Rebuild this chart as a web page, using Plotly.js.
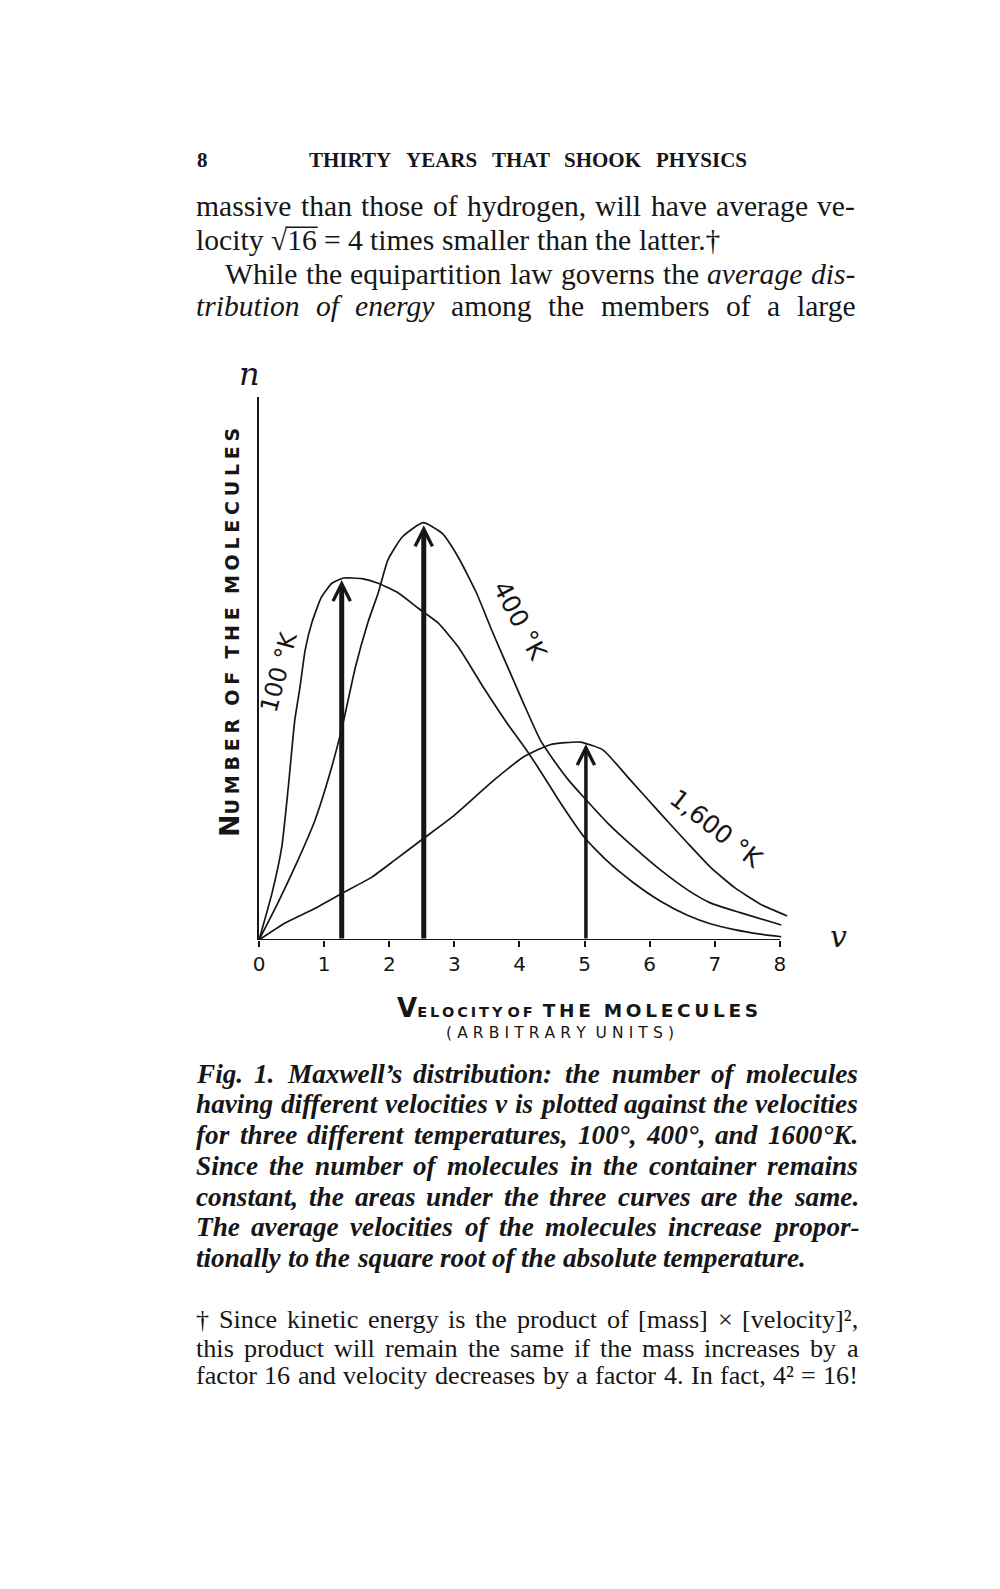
<!DOCTYPE html>
<html>
<head>
<meta charset="utf-8">
<script src="https://cdn.plot.ly/plotly-3.0.1.min.js"></script>
<style>html,body{margin:0;padding:0;background:#fff;}</style>
</head>
<body>
<div id="chart" style="width:1000px;height:1589px"></div>
<script>
// ---------------- data ----------------
const vel100 = [0, 0.20, 0.35, 0.45, 0.55, 0.63, 0.71, 0.81, 0.96, 1.12, 1.30, 1.58, 1.83, 2.14, 2.44, 2.75, 3.06, 3.44, 3.81, 4.12, 4.40, 4.62, 5.01, 5.35, 5.75, 6.16, 6.58, 6.93, 7.30, 7.70, 8.02];
const n100   = [0, 0.72, 1.43, 2.35, 3.38, 3.89, 4.46, 4.87, 5.27, 5.48, 5.56, 5.55, 5.48, 5.33, 5.10, 4.87, 4.50, 3.89, 3.33, 2.90, 2.47, 2.12, 1.56, 1.21, 0.88, 0.60, 0.38, 0.25, 0.16, 0.09, 0.05];

const vel400 = [0, 0.29, 0.60, 0.86, 1.06, 1.24, 1.32, 1.48, 1.67, 1.83, 1.98, 2.20, 2.52, 2.81, 3.06, 3.34, 3.59, 3.86, 4.06, 4.32, 4.52, 4.75, 4.98, 5.35, 5.75, 6.16, 6.58, 6.93, 7.39, 8.02];
const n400   = [0, 0.57, 1.23, 1.84, 2.46, 3.12, 3.46, 4.19, 4.87, 5.33, 5.84, 6.19, 6.41, 6.25, 5.88, 5.33, 4.72, 4.10, 3.64, 3.07, 2.77, 2.46, 2.20, 1.80, 1.43, 1.08, 0.77, 0.57, 0.42, 0.23];

const vel1600 = [0, 0.40, 0.81, 1.28, 1.74, 2.09, 2.50, 2.97, 3.32, 3.59, 4.06, 4.47, 4.93, 5.28, 5.70, 6.16, 6.58, 6.93, 7.31, 7.70, 8.11];
const n1600   = [0, 0.26, 0.46, 0.72, 0.97, 1.23, 1.54, 1.89, 2.20, 2.44, 2.81, 3.00, 3.04, 2.92, 2.46, 1.95, 1.49, 1.12, 0.80, 0.55, 0.37];

const peakVel = [1.27, 2.53, 5.02];      // most probable velocity (arrows)
const peakN   = [5.53, 6.37, 3.01];
const tickValues = [0, 1, 2, 3, 4, 5, 6, 7, 8];
const tickLabels = ['0', '1', '2', '3', '4', '5', '6', '7', '8'];
const curveLabels = ['100 °K', '400 °K', '1,600 °K'];

// ---------------- page text ----------------
const headerNum = '8';
const headerTitle = 'THIRTY YEARS THAT SHOOK PHYSICS';
const bodyLines = [
  'massive than those of hydrogen, will have average ve-',
  'locity √16 = 4 times smaller than the latter.†',
  'While the equipartition law governs the *average *dis-',
  '*tribution *of *energy among the members of a large'
];
const captionLines = [
  'Fig. 1. Maxwell’s distribution: the number of molecules',
  'having different velocities v is plotted against the velocities',
  'for three different temperatures, 100°, 400°, and 1600°K.',
  'Since the number of molecules in the container remains',
  'constant, the areas under the three curves are the same.',
  'The average velocities of the molecules increase propor-',
  'tionally to the square root of the absolute temperature.'
];
const footLines = [
  '† Since kinetic energy is the product of [mass] × [velocity]²,',
  'this product will remain the same if the mass increases by a',
  'factor 16 and velocity decreases by a factor 4. In fact, 4² = 16!'
];

// ---------------- geometry ----------------
const L = 259, PLOT_W = 533.82, R = 1000 - L - PLOT_W;
const T = 397, Y0 = 940, PLOT_H = Y0 - T, B = 1589 - Y0;
const toPX = px => (px - L) / PLOT_W;
const toPY = py => (Y0 - py) / PLOT_H;
const INK = '#161616';

const ctx = document.createElement('canvas').getContext('2d');
function measure(txt, f) {
  ctx.font = (f.italic ? 'italic ' : '') + (f.bold ? 'bold ' : '') + f.size + 'px "' + f.family + '"';
  return ctx.measureText(txt).width;
}
function tokens(line, base) {
  return line.split(' ').map(t => {
    const it = t.startsWith('*');
    const txt = it ? t.slice(1) : t;
    const f = Object.assign({}, base, {italic: base.italic || it});
    return {txt, f, w: measure(txt, f)};
  });
}
function naturalWidth(line, base) {
  const items = tokens(line, base);
  return items.reduce((a, b) => a + b.w, 0) + (items.length - 1) * measure(' ', base);
}
// font size for which a line's natural width equals a width measured on the page
function fitSize(line, base, targetW) {
  return base.size * targetW / naturalWidth(line, base);
}
const anns = [];
const textShapes = [];
function addLine(line, py, x0, x1, base, justify) {
  const items = tokens(line, base);
  const total = items.reduce((a, b) => a + b.w, 0);
  const gap = (justify && items.length > 1) ? (x1 - x0 - total) / (items.length - 1) : measure(' ', base);
  let x = x0;
  items.forEach(it => {
    anns.push({
      xref: 'paper', yref: 'paper', x: toPX(x), y: toPY(py),
      xanchor: 'left', yanchor: 'middle', showarrow: false,
      borderpad: 0, borderwidth: 0,
      text: it.txt,
      font: {family: base.family, size: base.size, color: INK,
             weight: it.f.bold ? 'bold' : 'normal', style: it.f.italic ? 'italic' : 'normal'}
    });
    const k = it.txt.indexOf('√');
    if (k >= 0) {   // vinculum over the radicand
      const xs = x + measure(it.txt.slice(0, k + 1), it.f) - 1.5;
      const xe = x + measure(it.txt, it.f) + 1;
      const yv = py - 0.43 * base.size;
      textShapes.push({type: 'line', xref: 'paper', yref: 'paper', x0: toPX(xs), x1: toPX(xe),
                       y0: toPY(yv), y1: toPY(yv), line: {color: INK, width: 1.5}});
    }
    x += it.w + gap;
  });
}

const serif = 'Liberation Serif';
// header
addLine(headerNum, 160, 197, 210, {family: serif, size: 21, bold: true}, false);
addLine(headerTitle, 160, 309, 747, {family: serif, size: 21, bold: true}, true);
// body
const bodyBase = {family: serif, size: 27};
bodyBase.size = +Math.min(
  fitSize(bodyLines[1], bodyBase, 556),
  fitSize(bodyLines[0], bodyBase, 652),
  fitSize(bodyLines[2], bodyBase, 624),
  fitSize(bodyLines[3], bodyBase, 652)).toFixed(2);
const bodyY = [206, 240, 274, 306];
const bodyX0 = [196, 196, 225, 196];
const bodyJust = [true, false, true, true];
bodyLines.forEach((ln, i) => addLine(ln, bodyY[i], bodyX0[i], 855, bodyBase, bodyJust[i]));
// caption
const capBase = {family: serif, size: 23, bold: true, italic: true};
capBase.size = +Math.min(
  fitSize(captionLines[captionLines.length - 1], capBase, 619),
  ...captionLines.slice(0, -1).map(ln => fitSize(ln, capBase, 656))).toFixed(2);
const capY = [1074, 1104, 1135, 1166, 1197, 1227, 1258];
captionLines.forEach((ln, i) => addLine(ln, capY[i], 196, 858, capBase, i < captionLines.length - 1));
// footnote
const footBase = {family: serif, size: 22};
footBase.size = +Math.min(...footLines.map(ln => fitSize(ln, footBase, 652))).toFixed(2);
const footY = [1319, 1348, 1375];
footLines.forEach((ln, i) => addLine(ln, footY[i], 196, 858, footBase, true));

// ---------------- hand-lettered chart labels ----------------
const hand = 'DejaVu Sans';
const sp = (s, g) => s.split('').join(g || '\u2009');
function handAnn(text, px, py, size, angle, extra) {
  anns.push(Object.assign({
    xref: 'paper', yref: 'paper', x: toPX(px), y: toPY(py),
    xanchor: 'center', yanchor: 'middle', showarrow: false,
    text: text, textangle: angle || 0,
    font: {family: hand, size: size, color: INK}
  }, extra || {}));
}
// axis symbols
handAnn('n', 250, 374, 32, 0, {font: {family: 'DejaVu Serif', size: 32, color: INK, style: 'italic'}});
handAnn('v', 838, 936, 30, 0, {font: {family: 'DejaVu Serif', size: 30, color: INK, style: 'italic'}});
// y title
const g4 = '\u2005';
handAnn('<span style="font-size:27px">N</span>' + sp('UMBER', g4) + '\u00A0\u00A0' + sp('OF', g4) + '\u00A0\u00A0' + sp('THE', g4) + '\u00A0\u00A0' + sp('MOLECULES', g4),
        229, 632, 19, -90, {font: {family: hand, size: 19, color: INK, weight: 'bold'}});
// x title
handAnn('<span style="font-size:26px">V</span>' + sp('ELOCITY') + '\u00A0' + sp('OF') + '\u00A0\u00A0' + '<span style="font-size:18.5px">' + sp('THE') + '\u00A0\u00A0' + sp('MOLECULES') + '</span>',
        577, 1008, 14.5, 0, {font: {family: hand, size: 14.5, color: INK, weight: 'bold'}});
handAnn(sp('(ARBITRARY', '\u2004') + '\u00A0\u00A0' + sp('UNITS)', '\u2004'), 560, 1033, 15.5, 0);
// curve labels
handAnn(curveLabels[0], 279, 672, 24, -75);
handAnn(curveLabels[1], 520, 620, 25, 62);
handAnn(curveLabels[2], 716, 828, 25, 38);

// arrows at the most probable velocities
const arrowW = [5, 5, 3.5];
peakVel.forEach((v, i) => {
  anns.push({
    xref: 'x', yref: 'y', x: v, y: peakN[i], axref: 'x', ayref: 'y', ax: v, ay: 0,
    text: '', showarrow: true, arrowhead: 5, arrowwidth: arrowW[i],
    arrowsize: 3.4 / arrowW[i], arrowcolor: INK, standoff: 0
  });
});

// ---------------- traces ----------------
const lineStyle = {color: INK, width: 1.7, shape: 'spline', smoothing: 0.5};
const traces = [
  {x: vel100, y: n100, mode: 'lines', line: lineStyle, name: curveLabels[0], hoverinfo: 'skip'},
  {x: vel400, y: n400, mode: 'lines', line: lineStyle, name: curveLabels[1], hoverinfo: 'skip'},
  {x: vel1600, y: n1600, mode: 'lines', line: lineStyle, name: curveLabels[2], hoverinfo: 'skip'}
];

const layout = {
  width: 1000, height: 1589, autosize: false,
  paper_bgcolor: '#ffffff', plot_bgcolor: 'rgba(0,0,0,0)',
  margin: {l: L, r: R, t: T, b: B, pad: 0},
  showlegend: false,
  xaxis: {
    range: [0, 8.2], tickmode: 'array', tickvals: tickValues, ticktext: tickLabels,
    ticks: 'outside', ticklen: 6, tickwidth: 2, tickcolor: INK,
    showline: false, showgrid: false, zeroline: false,
    tickfont: {family: hand, size: 20, color: INK}
  },
  yaxis: {
    range: [0, PLOT_H / 65.1], showline: true, linecolor: INK, linewidth: 2,
    showticklabels: false, ticks: '', showgrid: false, zeroline: false
  },
  shapes: [{type: 'line', xref: 'x', yref: 'y', x0: tickValues[0], x1: tickValues[tickValues.length - 1], y0: 0, y1: 0,
            line: {color: INK, width: 2}}].concat(textShapes),
  annotations: anns
};

Plotly.newPlot('chart', traces, layout, {displayModeBar: false, staticPlot: true});
</script>
</body>
</html>
